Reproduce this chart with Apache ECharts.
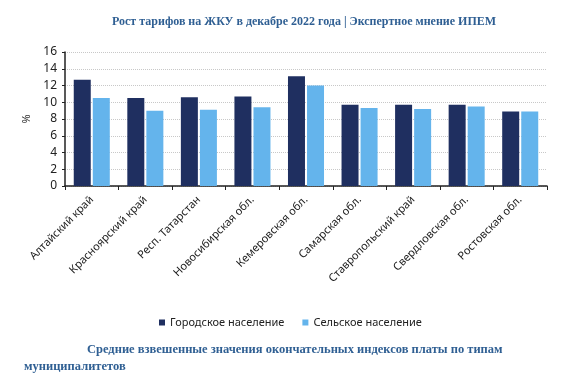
<!DOCTYPE html>
<html>
<head>
<meta charset="utf-8">
<script src="https://cdn.jsdelivr.net/npm/echarts@6/dist/echarts.min.js"></script>
<style>
  html, body { margin: 0; padding: 0; background: #ffffff; }
  #chart { width: 588px; height: 375px; }
</style>
</head>
<body>
<div id="chart"></div>
<script>
  // регионы и значения (рост тарифов, %)
  var regions = ['Алтайский край', 'Красноярский край', 'Респ. Татарстан', 'Новосибирская обл.',
    'Кемеровская обл.', 'Самарская обл.', 'Ставропольский край', 'Свердловская обл.', 'Ростовская обл.'];
  var urban = [12.7, 10.5, 10.6, 10.7, 13.1, 9.7, 9.7, 9.7, 8.9];
  var rural = [10.5, 9.0, 9.1, 9.4, 12.0, 9.3, 9.2, 9.5, 8.9];
  var seriesNames = ['Городское население', 'Сельское население'];

  var chart = echarts.init(document.getElementById('chart'));
  var titleStyle = {
    color: '#2f5f93',
    fontFamily: 'Liberation Serif',
    fontWeight: 'bold',
    fontSize: 12.5
  };

  chart.setOption({
    backgroundColor: '#ffffff',
    color: ['#1f2f60', '#64b4ec'],
    animation: false,
    title: [
      {
        text: 'Рост тарифов на ЖКУ в декабре 2022 года | Экспертное мнение ИПЕМ',
        left: 107,
        top: 11,
        textStyle: Object.assign({}, titleStyle, { fontSize: 12 })
      },
      {
        text: 'Средние взвешенные значения окончательных индексов платы по типам',
        left: 82,
        top: 338,
        textStyle: titleStyle
      },
      {
        text: 'муниципалитетов',
        left: 19,
        top: 355,
        textStyle: titleStyle
      }
    ],
    legend: {
      data: seriesNames,
      left: 154,
      top: 312,
      icon: 'rect',
      itemWidth: 6,
      itemHeight: 6,
      itemGap: 18,
      textStyle: { fontFamily: 'Noto Sans', fontSize: 11, color: '#222' }
    },
    grid: {
      left: 65,
      right: 41,
      top: 52,
      bottom: 189,
      containLabel: false
    },
    xAxis: {
      type: 'category',
      data: regions,
      axisLine: { lineStyle: { color: '#222', width: 1.5 } },
      axisTick: { show: true, length: 4, lineStyle: { color: '#222' } },
      axisLabel: {
        rotate: 45,
        interval: 0,
        margin: 12,
        fontFamily: 'Noto Sans',
        fontSize: 11,
        color: '#222'
      }
    },
    yAxis: {
      type: 'value',
      min: 0,
      max: 16,
      interval: 2,
      name: '%',
      nameLocation: 'middle',
      nameGap: 25,
      nameRotate: 90,
      nameTextStyle: { fontFamily: 'Noto Sans', fontSize: 11, color: '#333' },
      axisLine: { show: true, lineStyle: { color: '#222', width: 1.5 } },
      axisTick: { show: true, length: 3, lineStyle: { color: '#222' } },
      axisLabel: { fontFamily: 'Noto Sans', fontSize: 12, color: '#222', margin: 8 },
      splitLine: { lineStyle: { color: '#c8c8c8', type: 'dotted' } }
    },
    series: [
      {
        name: seriesNames[0],
        type: 'bar',
        data: urban,
        barWidth: 17,
        barGap: '12%'
      },
      {
        name: seriesNames[1],
        type: 'bar',
        data: rural,
        barWidth: 17
      }
    ]
  });
</script>
</body>
</html>
